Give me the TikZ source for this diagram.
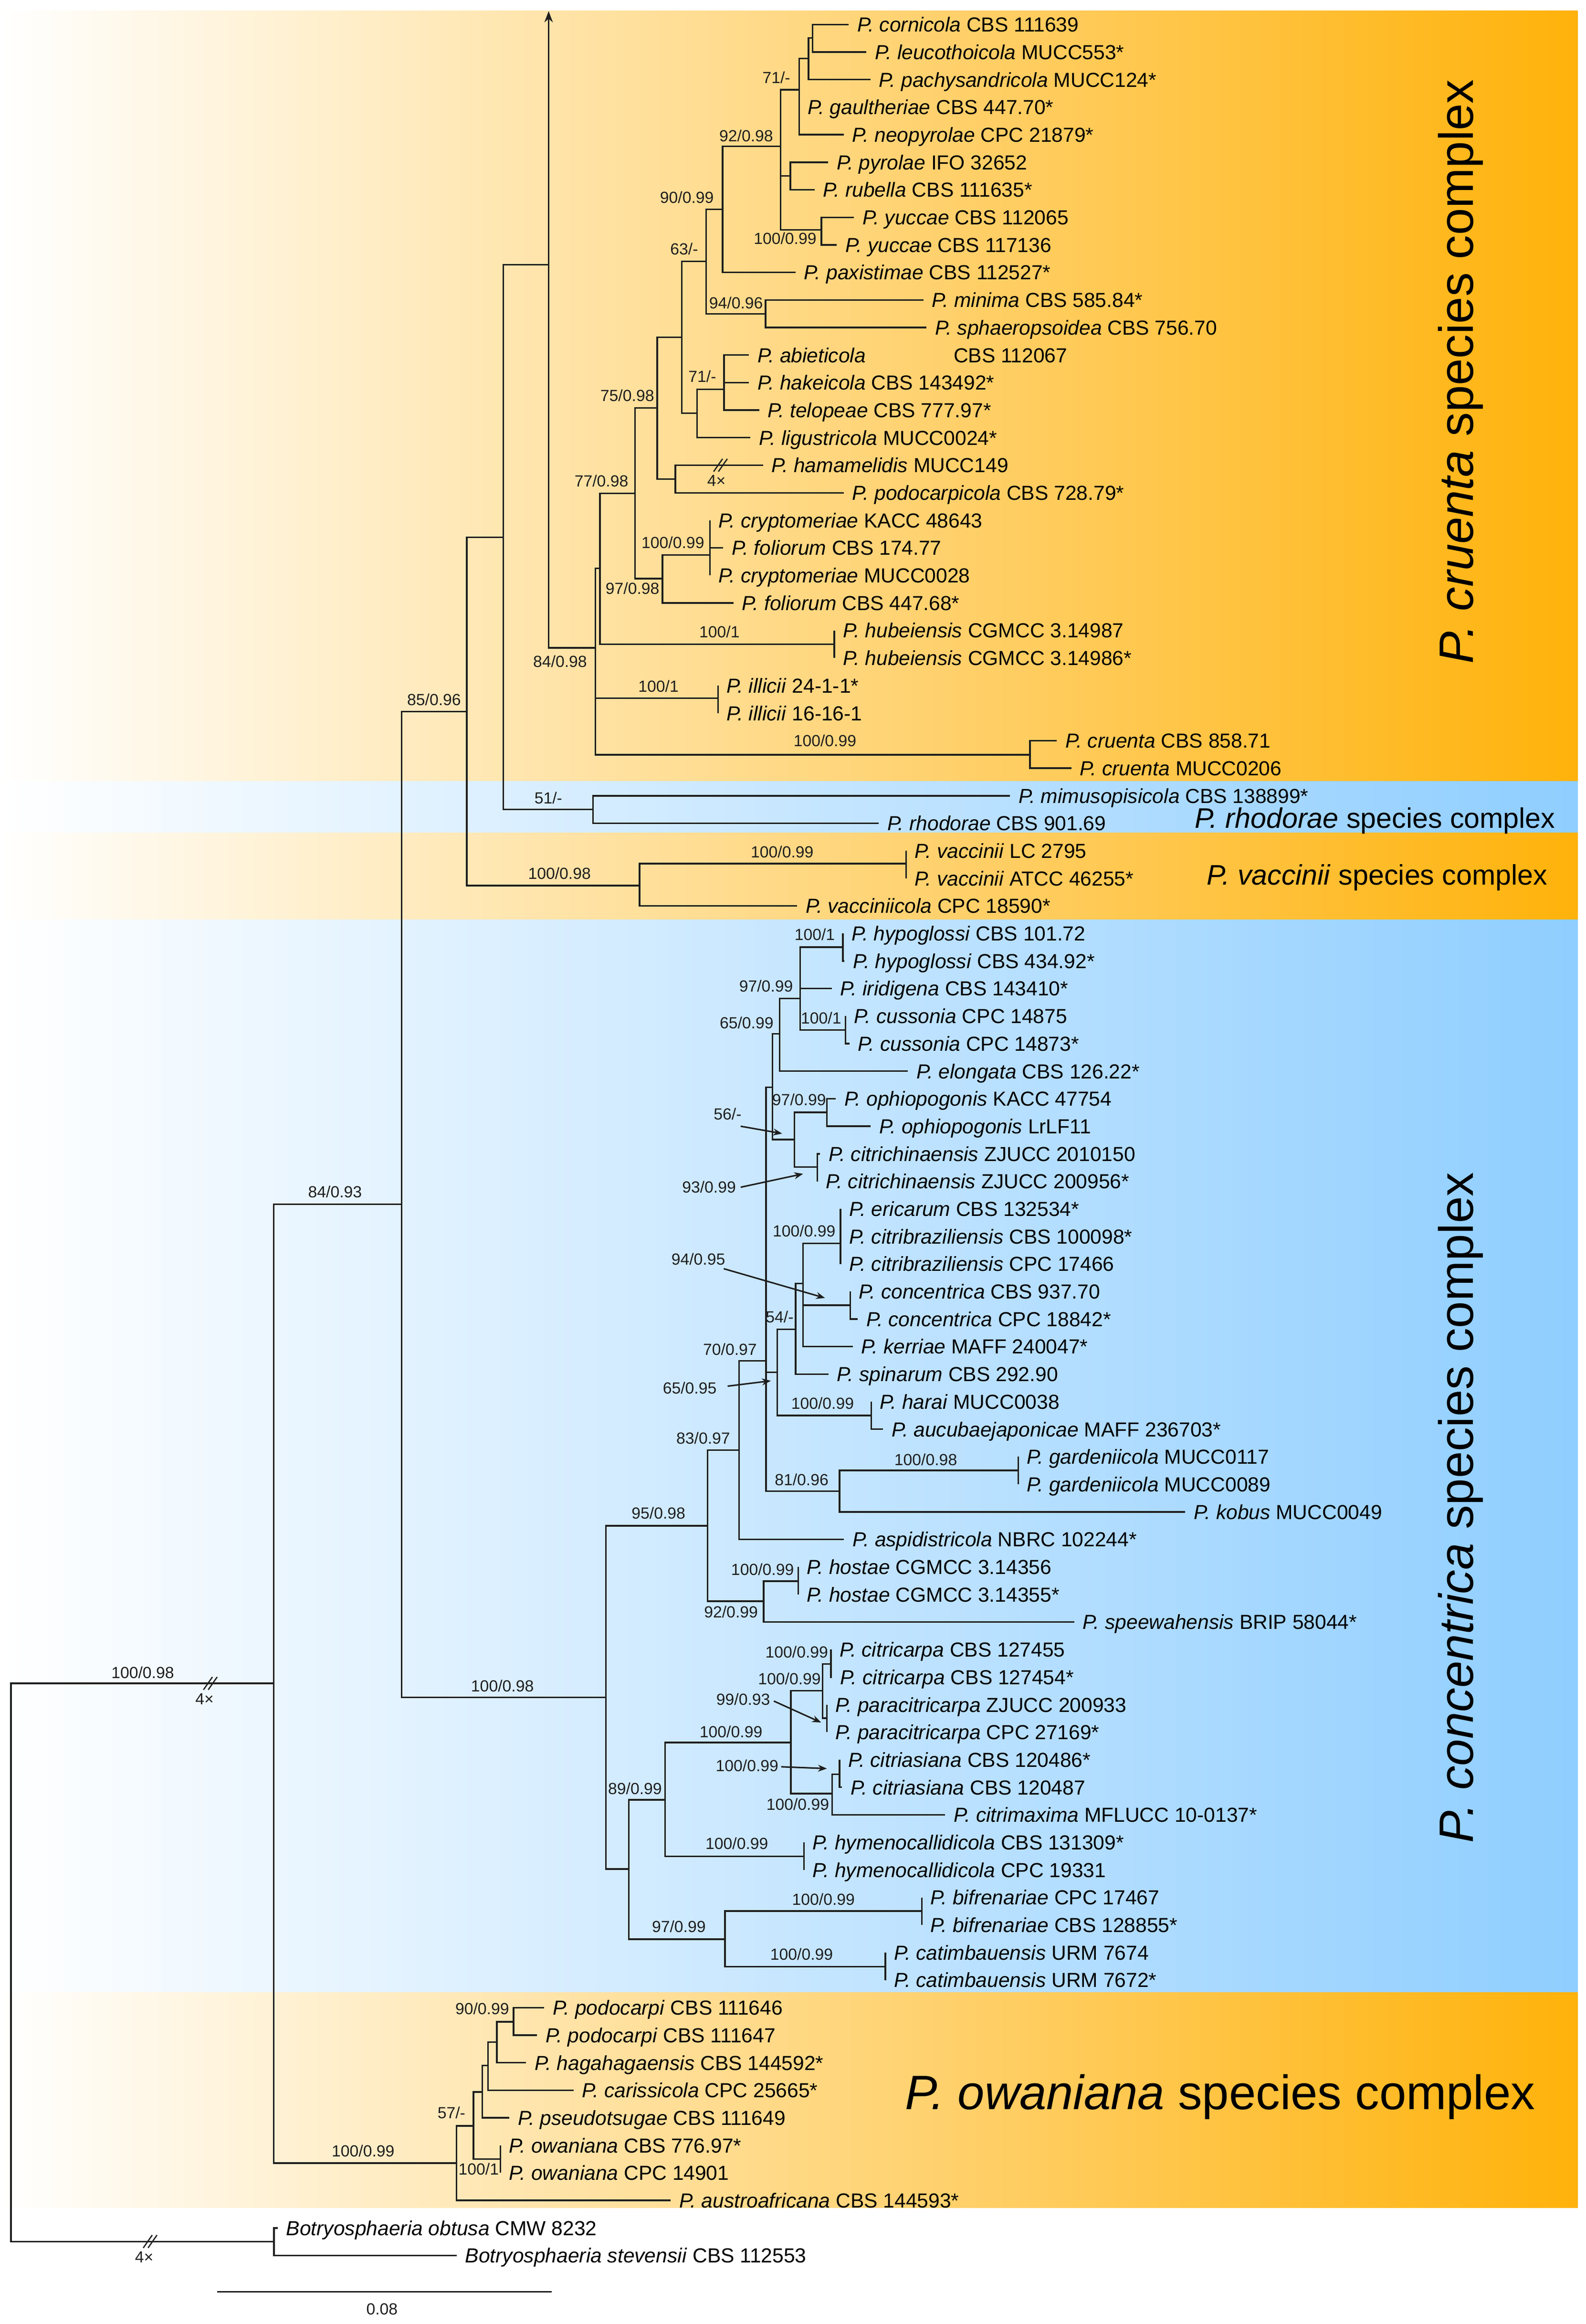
\documentclass[tikz,border=0pt]{standalone}
\usepackage{fontspec}
\setmainfont{Liberation Sans}
\usetikzlibrary{arrows.meta}
\definecolor{orR}{RGB}{255,178,10}
\definecolor{blR}{RGB}{143,206,255}
\definecolor{lnc}{RGB}{30,30,30}
\tikzset{
  br/.style={draw=lnc, line width=0.65pt},
  leaf/.style={anchor=west, inner xsep=3.3pt, inner ysep=0pt, text height=5.9pt, text depth=0pt, font=\fontsize{8.2}{9}\selectfont, text=black},
  sup/.style={inner sep=0pt, text height=4.65pt, text depth=0pt, font=\fontsize{6.5}{7}\selectfont, text=lnc},
  big/.style={inner sep=0pt, font=\fontsize{19.5}{22}\selectfont},
  midl/.style={inner sep=0pt, font=\fontsize{11.4}{13}\selectfont},
  sarr/.style={draw=lnc, line width=0.6pt, -{Stealth[length=3.6pt,width=2.8pt]}},
}
\newcommand\lf[4]{\node[leaf] (L#1) at (#2,{16.5+18.525*#1}) {\textit{#3} #4};}
\newcommand\cn[2]{\draw[br] (#1) |- (#2);}
\newcommand\brk[1]{\draw[br,line width=0.5pt] (#1) ++(-4.6,4.3) -- ++(6,-8.6) (#1) ++(-1.4,4.3) -- ++(6,-8.6);}
\begin{document}
\begin{tikzpicture}[x=0.6pt,y=-0.6pt]
\useasboundingbox (0,0) rectangle (1067,1563.1);
% bands
\fill[left color=white, right color=orR] (0,7.3) rectangle (1061.5,525.5);
\fill[left color=white, right color=blR] (0,525.5) rectangle (1061.5,560.3);
\fill[left color=white, right color=orR] (0,560.3) rectangle (1061.5,618.6);
\fill[left color=white, right color=blR] (0,618.6) rectangle (1061.5,1340);
\fill[left color=white, right color=orR] (0,1340) rectangle (1061.5,1485);
% leaves
\lf{0}{571}{P. cornicola}{CBS 111639}
\lf{1}{582.9}{P. leucothoicola}{MUCC553*}
\lf{2}{585.6}{P. pachysandricola}{MUCC124*}
\lf{3}{537.6}{P. gaultheriae}{CBS 447.70*}
\lf{4}{567.6}{P. neopyrolae}{CPC 21879*}
\lf{5}{557.1}{P. pyrolae}{IFO 32652}
\lf{6}{548}{P. rubella}{CBS 111635*}
\lf{7}{574.5}{P. yuccae}{CBS 112065}
\lf{8}{563}{P. yuccae}{CBS 117136}
\lf{9}{535.2}{P. paxistimae}{CBS 112527*}
\lf{10}{621.2}{P. minima}{CBS 585.84*}
\lf{11}{623.3}{P. sphaeropsoidea}{CBS 756.70}
\node[leaf] (L12) at (503.9,{16.5+18.525*12}) {\textit{P. abieticola}\hspace{35.5pt}CBS 112067};
\lf{13}{503.9}{P. hakeicola}{CBS 143492*}
\lf{14}{510.8}{P. telopeae}{CBS 777.97*}
\lf{15}{504.9}{P. ligustricola}{MUCC0024*}
\lf{16}{513.3}{P. hamamelidis}{MUCC149}
\lf{17}{567.6}{P. podocarpicola}{CBS 728.79*}
\lf{18}{477.7}{P. cryptomeriae}{KACC 48643}
\lf{19}{486.5}{P. foliorum}{CBS 174.77}
\lf{20}{477.7}{P. cryptomeriae}{MUCC0028}
\lf{21}{493.4}{P. foliorum}{CBS 447.68*}
\lf{22}{561.3}{P. hubeiensis}{CGMCC 3.14987}
\lf{23}{561.3}{P. hubeiensis}{CGMCC 3.14986*}
\lf{24}{483}{P. illicii}{24-1-1*}
\lf{25}{483}{P. illicii}{16-16-1}
\lf{26}{711}{P. cruenta}{CBS 858.71}
\lf{27}{720.7}{P. cruenta}{MUCC0206}
\lf{28}{679.5}{P. mimusopisicola}{CBS 138899*}
\lf{29}{591.1}{P. rhodorae}{CBS 901.69}
\lf{30}{609.6}{P. vaccinii}{LC 2795}
\lf{31}{609.6}{P. vaccinii}{ATCC 46255*}
\lf{32}{536.2}{P. vacciniicola}{CPC 18590*}
\lf{33}{567.1}{P. hypoglossi}{CBS 101.72}
\lf{34}{568}{P. hypoglossi}{CBS 434.92*}
\lf{35}{559.6}{P. iridigena}{CBS 143410*}
\lf{36}{568.8}{P. cussonia}{CPC 14875}
\lf{37}{571.4}{P. cussonia}{CPC 14873*}
\lf{38}{610.7}{P. elongata}{CBS 126.22*}
\lf{39}{562.2}{P. ophiopogonis}{KACC 47754}
\lf{40}{585.8}{P. ophiopogonis}{LrLF11}
\lf{41}{551.7}{P. citrichinaensis}{ZJUCC 2010150}
\lf{42}{549.8}{P. citrichinaensis}{ZJUCC 200956*}
\lf{43}{565.5}{P. ericarum}{CBS 132534*}
\lf{44}{565.5}{P. citribraziliensis}{CBS 100098*}
\lf{45}{565.5}{P. citribraziliensis}{CPC 17466}
\lf{46}{572}{P. concentrica}{CBS 937.70}
\lf{47}{577}{P. concentrica}{CPC 18842*}
\lf{48}{573.7}{P. kerriae}{MAFF 240047*}
\lf{49}{557.3}{P. spinarum}{CBS 292.90}
\lf{50}{586.1}{P. harai}{MUCC0038}
\lf{51}{594}{P. aucubaejaponicae}{MAFF 236703*}
\lf{52}{685.1}{P. gardeniicola}{MUCC0117}
\lf{53}{685.1}{P. gardeniicola}{MUCC0089}
\lf{54}{797.4}{P. kobus}{MUCC0049}
\lf{55}{567.8}{P. aspidistricola}{NBRC 102244*}
\lf{56}{537}{P. hostae}{CGMCC 3.14356}
\lf{57}{537}{P. hostae}{CGMCC 3.14355*}
\lf{58}{722.7}{P. speewahensis}{BRIP 58044*}
\lf{59}{559}{P. citricarpa}{CBS 127455}
\lf{60}{559.6}{P. citricarpa}{CBS 127454*}
\lf{61}{556.3}{P. paracitricarpa}{ZJUCC 200933}
\lf{62}{556.3}{P. paracitricarpa}{CPC 27169*}
\lf{63}{564.8}{P. citriasiana}{CBS 120486*}
\lf{64}{566.5}{P. citriasiana}{CBS 120487}
\lf{65}{635.9}{P. citrimaxima}{MFLUCC 10-0137*}
\lf{66}{540.9}{P. hymenocallidicola}{CBS 131309*}
\lf{67}{540.9}{P. hymenocallidicola}{CPC 19331}
\lf{68}{620.2}{P. bifrenariae}{CPC 17467}
\lf{69}{620.2}{P. bifrenariae}{CBS 128855*}
\lf{70}{595.6}{P. catimbauensis}{URM 7674}
\lf{71}{595.6}{P. catimbauensis}{URM 7672*}
\lf{72}{366.2}{P. podocarpi}{CBS 111646}
\lf{73}{361.3}{P. podocarpi}{CBS 111647}
\lf{74}{353.9}{P. hagahagaensis}{CBS 144592*}
\lf{75}{385.8}{P. carissicola}{CPC 25665*}
\lf{76}{342.6}{P. pseudotsugae}{CBS 111649}
\lf{77}{336.7}{P. owaniana}{CBS 776.97*}
\lf{78}{336.7}{P. owaniana}{CPC 14901}
\lf{79}{451.2}{P. austroafricana}{CBS 144593*}
\lf{80}{186.8}{Botryosphaeria obtusa}{CMW 8232}
\lf{81}{307.2}{Botryosphaeria stevensii}{CBS 112553}
% internal nodes: cruenta
\coordinate (nA) at (546.7,25.6);
\coordinate (nB) at (543.9,39.3);
\coordinate (nC) at (537.6,60.4);
\coordinate (nE) at (531.7,118.4);
\coordinate (nF) at (552.6,154.6);
\coordinate (nD) at (525.1,98.4);
\coordinate (nG) at (486.1,140.7);
\coordinate (nI) at (515,211.2);
\coordinate (nH) at (475,175.8);
\coordinate (nL) at (487.1,261.8);
\coordinate (nM) at (469,277.8);
\coordinate (nJ) at (458.6,226.9);
\coordinate (nO) at (454.4,322.2);
\coordinate (nK) at (442.2,274.3);
\coordinate (nR) at (477.7,373.2);
\coordinate (nQ) at (445.7,389.2);
\coordinate (nP) at (427.3,331.8);
\coordinate (nS) at (561.3,433.3);
\coordinate (nT) at (403.6,382.3);
\coordinate (nV) at (483,469.6);
\coordinate (nW) at (692.9,507.6);
\coordinate (nU) at (400.5,435.7);
\coordinate (nArr) at (369.1,178);
\coordinate (arrTop) at (369.1,7.5);
\coordinate (nY) at (398.9,544.5);
\coordinate (nX) at (338.5,361.4);
\coordinate (nAB) at (609.6,580.9);
\coordinate (nAA) at (430.3,595.6);
\coordinate (nZ) at (314,478.5);
\coordinate (nN1) at (270.3,809.9);
% concentrica
\coordinate (c1) at (567.1,637.1);
\coordinate (c2) at (568.8,692.8);
\coordinate (c3) at (538.3,671.5);
\coordinate (c4) at (524.5,695.3);
\coordinate (c5) at (556.3,748.2);
\coordinate (c6) at (549.8,785);
\coordinate (c7) at (534.4,766.5);
\coordinate (c8) at (519.6,731.3);
\coordinate (c9) at (565.5,836.2);
\coordinate (c10) at (572,877.9);
\coordinate (c11) at (540.3,863.2);
\coordinate (c12) at (535.3,894);
\coordinate (c13) at (586.1,952);
\coordinate (c14) at (522.9,923);
\coordinate (c15) at (685.1,989);
\coordinate (c16) at (564.8,1003);
\coordinate (c17) at (515.4,915.3);
\coordinate (c18) at (497.3,975.4);
\coordinate (c19) at (537,1063.5);
\coordinate (c20) at (513.7,1077);
\coordinate (c21) at (476,1026.2);
\coordinate (c22) at (559,1119.2);
\coordinate (c23) at (556.3,1155.6);
\coordinate (c24) at (553.4,1137.2);
\coordinate (c25) at (564.8,1193.3);
\coordinate (c26) at (559.9,1206.4);
\coordinate (c27) at (532.1,1172);
\coordinate (c28) at (540.9,1248.6);
\coordinate (c29) at (447.5,1210.5);
\coordinate (c30) at (620.2,1285.3);
\coordinate (c31) at (595.6,1322.7);
\coordinate (c32) at (487.8,1304.3);
\coordinate (c33) at (423,1257.1);
\coordinate (nC0) at (407.6,1141.7);
% owaniana and root
\coordinate (o1) at (345.5,1359.8);
\coordinate (o2) at (334.2,1373.4);
\coordinate (o3) at (328.3,1389.2);
\coordinate (o4) at (324.4,1407);
\coordinate (o5) at (336.7,1452.1);
\coordinate (o6) at (318.5,1429.8);
\coordinate (o7) at (307.2,1454.9);
\coordinate (nN0) at (184.1,1132.2);
\coordinate (nBot) at (184.3,1507.6);
\coordinate (nRoot) at (7.4,1320);
% branches cruenta
\cn{nA}{L0.west}\cn{nA}{L1.west}
\cn{nB}{nA}\cn{nB}{L2.west}
\cn{nC}{nB}\cn{nC}{L3.west}\cn{nC}{L4.west}
\cn{nE}{L5.west}\cn{nE}{L6.west}
\cn{nF}{L7.west}\cn{nF}{L8.west}
\cn{nD}{nC}\cn{nD}{nE}\cn{nD}{nF}
\cn{nG}{nD}\cn{nG}{L9.west}
\cn{nI}{L10.west}\cn{nI}{L11.west}
\cn{nH}{nG}\cn{nH}{nI}
\cn{nL}{L12.west}\cn{nL}{L13.west}\cn{nL}{L14.west}
\cn{nM}{nL}\cn{nM}{L15.west}
\cn{nJ}{nH}\cn{nJ}{nM}
\cn{nO}{L16.west}\cn{nO}{L17.west}
\cn{nK}{nJ}\cn{nK}{nO}
\cn{nR}{L18.west}\cn{nR}{L19.west}\cn{nR}{L20.west}
\cn{nQ}{nR}\cn{nQ}{L21.west}
\cn{nP}{nK}\cn{nP}{nQ}
\cn{nS}{L22.west}\cn{nS}{L23.west}
\cn{nT}{nP}\cn{nT}{nS}
\cn{nV}{L24.west}\cn{nV}{L25.west}
\cn{nW}{L26.west}\cn{nW}{L27.west}
\cn{nU}{nT}\cn{nU}{nV}\cn{nU}{nW}
\cn{nArr}{nU}
\draw[br,-{Stealth[length=4.5pt,width=3.4pt]}] (nArr) -- (arrTop);
\cn{nX}{nArr}
\cn{nY}{L28.west}\cn{nY}{L29.west}
\cn{nX}{nY}
\cn{nAB}{L30.west}\cn{nAB}{L31.west}
\cn{nAA}{nAB}\cn{nAA}{L32.west}
\cn{nZ}{nX}\cn{nZ}{nAA}
\cn{nN1}{nZ}\cn{nN1}{nC0}
% branches concentrica
\cn{c1}{L33.west}\cn{c1}{L34.west}
\cn{c2}{L36.west}\cn{c2}{L37.west}
\cn{c3}{c1}\cn{c3}{L35.west}\cn{c3}{c2}
\cn{c4}{c3}\cn{c4}{L38.west}
\cn{c5}{L39.west}\cn{c5}{L40.west}
\cn{c6}{L41.west}\cn{c6}{L42.west}
\cn{c7}{c5}\cn{c7}{c6}
\cn{c8}{c4}\cn{c8}{c7}
\cn{c9}{L43.west}\cn{c9}{L44.west}\cn{c9}{L45.west}
\cn{c10}{L46.west}\cn{c10}{L47.west}
\cn{c11}{c9}\cn{c11}{c10}\cn{c11}{L48.west}
\cn{c12}{c11}\cn{c12}{L49.west}
\cn{c13}{L50.west}\cn{c13}{L51.west}
\cn{c14}{c12}\cn{c14}{c13}
\cn{c15}{L52.west}\cn{c15}{L53.west}
\cn{c16}{c15}\cn{c16}{L54.west}
\cn{c17}{c8}\cn{c17}{c14}\cn{c17}{c16}
\cn{c18}{c17}\cn{c18}{L55.west}
\cn{c19}{L56.west}\cn{c19}{L57.west}
\cn{c20}{c19}\cn{c20}{L58.west}
\cn{c21}{c18}\cn{c21}{c20}
\cn{c22}{L59.west}\cn{c22}{L60.west}
\cn{c23}{L61.west}\cn{c23}{L62.west}
\cn{c24}{c22}\cn{c24}{c23}
\cn{c25}{L63.west}\cn{c25}{L64.west}
\cn{c26}{c25}\cn{c26}{L65.west}
\cn{c27}{c24}\cn{c27}{c26}
\cn{c28}{L66.west}\cn{c28}{L67.west}
\cn{c29}{c27}\cn{c29}{c28}
\cn{c30}{L68.west}\cn{c30}{L69.west}
\cn{c31}{L70.west}\cn{c31}{L71.west}
\cn{c32}{c30}\cn{c32}{c31}
\cn{c33}{c29}\cn{c33}{c32}
\cn{nC0}{c21}\cn{nC0}{c33}
% branches owaniana, root
\cn{o1}{L72.west}\cn{o1}{L73.west}
\cn{o2}{o1}\cn{o2}{L74.west}
\cn{o3}{o2}\cn{o3}{L75.west}
\cn{o4}{o3}\cn{o4}{L76.west}
\cn{o5}{L77.west}\cn{o5}{L78.west}
\cn{o6}{o4}\cn{o6}{o5}
\cn{o7}{o6}\cn{o7}{L79.west}
\cn{nN0}{nN1}\cn{nN0}{o7}
\cn{nBot}{L80.west}\cn{nBot}{L81.west}
\cn{nRoot}{nN0}\cn{nRoot}{nBot}
% breaks
\coordinate (bk1) at (141.5,1132.2);
\coordinate (bk2) at (101,1507.6);
\coordinate (bk3) at (484.7,312.9);
\brk{bk1}\brk{bk2}\brk{bk3}
\node[sup] (f1) at (137.6,1142.6) {4×};
\node[sup] (f2) at (97,1517.8) {4×};
\node[sup] (f3) at (482,323.1) {4×};
% support values cruenta
\node[sup] (s1) at (522.3,52.2) {71/-};
\node[sup] (s2) at (502,91.4) {92/0.98};
\node[sup] (s3) at (462.1,132.7) {90/0.99};
\node[sup] (s4) at (528.2,160.2) {100/0.99};
\node[sup] (s5) at (460.3,167.5) {63/-};
\node[sup] (s6) at (495.2,203.7) {94/0.96};
\node[sup] (s7) at (472.5,253.3) {71/-};
\node[sup] (s8) at (422,266) {75/0.98};
\node[sup] (s9) at (404.6,323.6) {77/0.98};
\node[sup] (s10) at (452.7,364.8) {100/0.99};
\node[sup] (s11) at (425.5,395.8) {97/0.98};
\node[sup] (s12) at (484,424.9) {100/1};
\node[sup] (s13) at (376.8,445) {84/0.98};
\node[sup] (s14) at (443,461.5) {100/1};
\node[sup] (s15) at (555,498) {100/0.99};
\node[sup] (s16) at (368.9,536.7) {51/-};
\node[sup] (s17) at (526.2,573.1) {100/0.99};
\node[sup] (s18) at (376.4,587.5) {100/0.98};
\node[sup] (s19) at (292,470.5) {85/0.96};
\node[sup] (s20) at (225.4,801.6) {84/0.93};
\node[sup] (s21) at (338,1134) {100/0.98};
\node[sup] (s22) at (96,1124.8) {100/0.98};
% support values concentrica
\node[sup] (t1) at (548.1,628.6) {100/1};
\node[sup] (t2) at (515.4,663.3) {97/0.99};
\node[sup] (t3) at (552.4,684.6) {100/1};
\node[sup] (t4) at (502.3,687.9) {65/0.99};
\node[sup] (t5) at (537.6,739.5) {97/0.99};
\node[sup] (t6) at (489.5,749.3) {56/-};
\node[sup] (t7) at (477,798.5) {93/0.99};
\node[sup] (t8) at (541,828) {100/0.99};
\node[sup] (t9) at (469.8,846.8) {94/0.95};
\node[sup] (t10) at (524.5,885.8) {54/-};
\node[sup] (t11) at (491.1,907.4) {70/0.97};
\node[sup] (t12) at (464,933.6) {65/0.95};
\node[sup] (t13) at (553.4,943.8) {100/0.99};
\node[sup] (t14) at (473.1,967.2) {83/0.97};
\node[sup] (t15) at (622.8,981.6) {100/0.98};
\node[sup] (t16) at (539.3,995.1) {81/0.96};
\node[sup] (t17) at (443,1017.6) {95/0.98};
\node[sup] (t18) at (513,1055.6) {100/0.99};
\node[sup] (t19) at (491.8,1084.3) {92/0.99};
\node[sup] (t20) at (536,1111) {100/0.99};
\node[sup] (t21) at (531.1,1129) {100/0.99};
\node[sup] (t22) at (500,1143) {99/0.93};
\node[sup] (t23) at (491.8,1164.6) {100/0.99};
\node[sup] (t24) at (502.6,1187.5) {100/0.99};
\node[sup] (t25) at (427.2,1203.1) {89/0.99};
\node[sup] (t26) at (536.7,1213.7) {100/0.99};
\node[sup] (t27) at (495.7,1240) {100/0.99};
\node[sup] (t28) at (554,1277.6) {100/0.99};
\node[sup] (t29) at (456.7,1295.6) {97/0.99};
\node[sup] (t30) at (539.3,1314.5) {100/0.99};
% support values owaniana
\node[sup] (u1) at (324.4,1351.1) {90/0.99};
\node[sup] (u2) at (303.7,1421.1) {57/-};
\node[sup] (u3) at (322,1458.9) {100/1};
\node[sup] (u4) at (244.3,1446.7) {100/0.99};
% label arrows
\coordinate (a1s) at (498.3,757.5); \coordinate (a1e) at (526.2,762.4);
\coordinate (a2s) at (498.3,798.5); \coordinate (a2e) at (540.3,789.5);
\coordinate (a3s) at (486.9,853.3); \coordinate (a3e) at (555,873);
\coordinate (a4s) at (489.5,932.3); \coordinate (a4e) at (518.6,928.7);
\coordinate (a5s) at (520.6,1144.1); \coordinate (a5e) at (552.4,1158.5);
\coordinate (a6s) at (525.5,1188.3); \coordinate (a6e) at (556.3,1189.5);
\draw[sarr] (a1s) -- (a1e);
\draw[sarr] (a2s) -- (a2e);
\draw[sarr] (a3s) -- (a3e);
\draw[sarr] (a4s) -- (a4e);
\draw[sarr] (a5s) -- (a5e);
\draw[sarr] (a6s) -- (a6e);
% complex labels
\node[big, rotate=90, anchor=base] (lbCru) at (990.9,250) {\textit{P. cruenta} species complex};
\node[big, rotate=90, anchor=base] (lbCon) at (990.9,1014) {\textit{P. concentrica} species complex};
\node[midl, anchor=base] (lbRho) at (925,557) {\textit{P. rhodorae} species complex};
\node[midl, anchor=base] (lbVac) at (926.5,595) {\textit{P. vaccinii} species complex};
\node[big, anchor=base west] (lbOwa) at (608.5,1418.7) {\textit{P. owaniana} species complex};
% scale bar
\coordinate (sb1) at (146,1541.4);
\coordinate (sb2) at (371.1,1541.4);
\draw[br] (sb1) -- (sb2);
\node[sup] (sbl) at (257,1553) {0.08};
\end{tikzpicture}
\end{document}
